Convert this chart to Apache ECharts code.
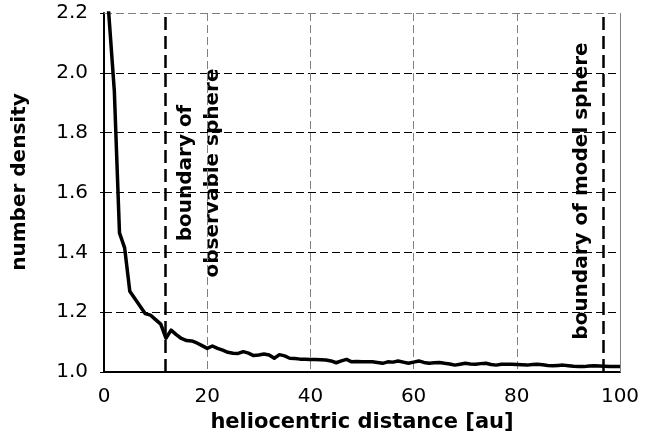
<!DOCTYPE html>
<html>
<head>
<meta charset="utf-8">
<script src="https://cdn.jsdelivr.net/npm/echarts@6/dist/echarts.min.js"></script>
<style>
  html, body { margin: 0; padding: 0; background: #fff; }
  #chart { width: 664px; height: 441px; }
</style>
</head>
<body>
<div id="chart"></div>
<script>
// heliocentric distance [au] of each sample
const distance = [0.5, 2, 3, 4, 5, 6, 7, 8, 9, 10, 11, 12, 13, 14, 15, 16, 17, 18, 19, 20,
  21, 22, 23, 24, 25, 26, 27, 28, 29, 30, 31, 32, 33, 34, 35, 36, 37, 38, 39, 40,
  41, 42, 43, 44, 45, 46, 47, 48, 49, 50, 51, 52, 53, 54, 55, 56, 57, 58, 59, 60,
  61, 62, 63, 64, 65, 66, 67, 68, 69, 70, 71, 72, 73, 74, 75, 76, 77, 78, 79, 80,
  81, 82, 83, 84, 85, 86, 87, 88, 89, 90, 91, 92, 93, 94, 95, 96, 97, 98, 99, 100];

// normalised number density at each distance
const density = [2.30, 1.94, 1.465, 1.415, 1.27, 1.245, 1.22, 1.195, 1.19, 1.175, 1.16, 1.113, 1.14, 1.125, 1.112, 1.105, 1.104, 1.097, 1.088, 1.079,
  1.087, 1.079, 1.073, 1.066, 1.063, 1.062, 1.068, 1.063, 1.055, 1.057, 1.060, 1.057, 1.046, 1.058, 1.054, 1.046, 1.045, 1.043, 1.043, 1.042,
  1.042, 1.041, 1.040, 1.037, 1.031, 1.037, 1.042, 1.034, 1.035, 1.034, 1.034, 1.034, 1.032, 1.029, 1.034, 1.033, 1.037, 1.033, 1.029, 1.033,
  1.037, 1.032, 1.029, 1.031, 1.032, 1.029, 1.027, 1.023, 1.026, 1.029, 1.027, 1.026, 1.028, 1.029, 1.025, 1.023, 1.026, 1.026, 1.026, 1.025,
  1.024, 1.023, 1.025, 1.026, 1.024, 1.022, 1.021, 1.022, 1.023, 1.021, 1.019, 1.018, 1.018, 1.020, 1.021, 1.020, 1.019, 1.018, 1.018, 1.018];

// sphere boundaries [au]
const observableBoundary = 11.8;
const modelBoundary = 96.7;

// axis ranges and tick steps
const xTicks = { min: 0, max: 100, step: 20 };
const yTicks = { min: 1.0, max: 2.2, step: 0.2 };

const FONT = 'DejaVu Sans';

const chart = echarts.init(document.getElementById('chart'), null, { renderer: 'canvas' });

const points = distance.map((d, i) => [d, density[i]]);

chart.setOption({
  backgroundColor: '#ffffff',
  animation: false,
  grid: { left: 104, right: 44, top: 13, bottom: 69, containLabel: false },
  xAxis: {
    type: 'value',
    min: xTicks.min, max: xTicks.max, interval: xTicks.step,
    name: 'heliocentric distance [au]',
    nameLocation: 'middle',
    nameGap: 25,
    nameTextStyle: { fontFamily: FONT, fontWeight: 'bold', fontSize: 21, color: '#000' },
    axisLine: { show: true, onZero: false, lineStyle: { color: '#000', width: 2 } },
    axisTick: { show: false },
    axisLabel: { margin: 15, fontFamily: FONT, fontSize: 20, color: '#000' },
    splitLine: { show: true, showMinLine: false, showMaxLine: false,
      lineStyle: { color: '#808080', width: 1, type: [8, 4] } }
  },
  yAxis: {
    type: 'value',
    min: yTicks.min, max: yTicks.max, interval: yTicks.step,
    axisLine: { show: true, onZero: false, lineStyle: { color: '#000', width: 2 } },
    axisTick: { show: true, inside: false, length: 4, lineStyle: { color: '#000', width: 1 } },
    axisLabel: { margin: 16, fontFamily: FONT, fontSize: 20, color: '#000',
      formatter: v => v.toFixed(1) },
    splitLine: { show: true, showMinLine: false, showMaxLine: false,
      lineStyle: { color: '#000', width: 1, type: [8, 4] } }
  },
  series: [
    {
      // plot frame: dashed top edge and solid right edge
      type: 'line',
      data: [],
      silent: true,
      markLine: {
        silent: true, symbol: 'none', label: { show: false }, animation: false,
        data: [
          { yAxis: yTicks.max, lineStyle: { color: '#808080', width: 1, type: [8, 4] } },
          { xAxis: xTicks.max, lineStyle: { color: '#808080', width: 1, type: 'solid' } }
        ]
      }
    },
    {
      // sphere boundaries
      type: 'line',
      data: [],
      silent: true,
      z: 3,
      markLine: {
        silent: true, symbol: 'none', label: { show: false }, animation: false,
        lineStyle: { color: '#000', width: 2.5, type: [13, 6] },
        data: [ { xAxis: observableBoundary }, { xAxis: modelBoundary } ]
      }
    },
    {
      name: 'number density',
      type: 'line',
      data: points,
      showSymbol: false,
      symbol: 'none',
      clip: true,
      z: 5,
      lineStyle: { color: '#000', width: 3.5, join: 'round' }
    }
  ],
  graphic: [
    {
      type: 'text', x: 20, y: 182, rotation: Math.PI / 2,
      style: { text: 'number density', fontFamily: FONT, fontWeight: 'bold', fontSize: 20,
        fill: '#000', align: 'center', verticalAlign: 'middle' }
    },
    {
      type: 'text', x: 199, y: 173, rotation: Math.PI / 2,
      style: { text: 'boundary of\nobservable sphere', fontFamily: FONT, fontWeight: 'bold', fontSize: 20,
        lineHeight: 27, fill: '#000', align: 'center', verticalAlign: 'middle' }
    },
    {
      type: 'text', x: 582, y: 191, rotation: Math.PI / 2,
      style: { text: 'boundary of model sphere', fontFamily: FONT, fontWeight: 'bold', fontSize: 20,
        fill: '#000', align: 'center', verticalAlign: 'middle' }
    }
  ]
});
</script>
</body>
</html>
